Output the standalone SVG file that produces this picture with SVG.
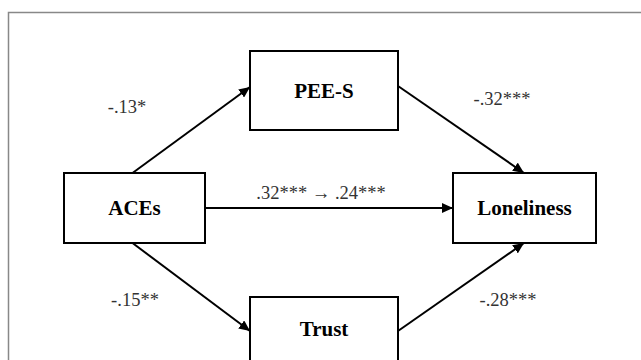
<svg xmlns="http://www.w3.org/2000/svg" width="641" height="360" viewBox="0 0 641 360">
<style>
.box{fill:#fff;stroke:#000;stroke-width:2}
.name{font-family:"Liberation Serif","Times New Roman",serif;font-weight:bold;font-size:21px;fill:#000;text-anchor:middle}
.coef{font-family:"Liberation Serif","Times New Roman",serif;font-size:18.5px;fill:#333;text-anchor:middle}
.conn{stroke:#000;stroke-width:2;fill:none;marker-end:url(#arr)}
</style>
<defs>
<marker id="arr" markerUnits="userSpaceOnUse" markerWidth="12" markerHeight="10" refX="11" refY="5" orient="auto">
<path d="M0,0 L11,5 L0,10 Z" fill="#000"/>
</marker>
</defs>
<rect x="0" y="0" width="641" height="360" fill="#fff"/>
<rect x="8.5" y="12.5" width="700" height="400" fill="none" stroke="#888" stroke-width="1.5"/>
<g id="connectors">
<line class="conn" x1="132.5" y1="173" x2="250" y2="87"/>
<line class="conn" x1="398" y1="86" x2="524" y2="173"/>
<line class="conn" x1="205" y1="208" x2="453" y2="208"/>
<line class="conn" x1="132.5" y1="243" x2="250" y2="331"/>
<line class="conn" x1="398" y1="331" x2="524" y2="243"/>
</g>
<g id="labels">
<text class="coef" x="127" y="113">-.13*</text>
<text class="coef" x="502" y="105">-.32***</text>
<text class="coef" x="321" y="199">.32*** → .24***</text>
<text class="coef" x="135" y="306">-.15**</text>
<text class="coef" x="508" y="306">-.28***</text>
</g>
<g id="node-pees">
<rect class="box" x="250" y="51" width="148" height="79"/>
<text class="name" x="324" y="97.5">PEE-S</text>
</g>
<g id="node-aces">
<rect class="box" x="64" y="173" width="141" height="70"/>
<text class="name" x="134.5" y="215">ACEs</text>
</g>
<g id="node-loneliness">
<rect class="box" x="453" y="173" width="143" height="70"/>
<text class="name" x="524.5" y="215">Loneliness</text>
</g>
<g id="node-trust">
<rect class="box" x="250" y="297" width="148" height="72"/>
<text class="name" x="324" y="336">Trust</text>
</g>
</svg>
